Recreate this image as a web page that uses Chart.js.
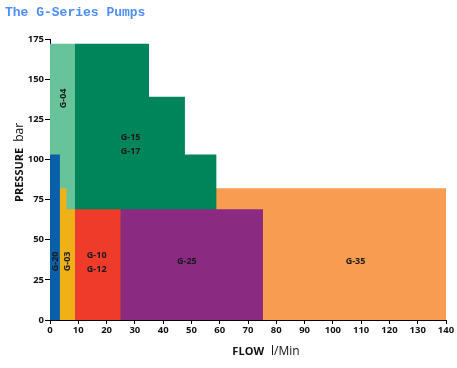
<!DOCTYPE html>
<html>
<head>
<meta charset="utf-8">
<style>
  html, body { margin: 0; padding: 0; background: #ffffff; }
  #wrap { width: 457px; height: 368px; }
</style>
<script src="https://cdn.jsdelivr.net/npm/chart.js@4/dist/chart.umd.min.js"></script>
</head>
<body>
<div id="wrap"><canvas id="c" width="457" height="368"></canvas></div>
<script>
// ---- data ----
const seriesNames = ['G-20', 'G-03', 'G-10 / G-12', 'G-25', 'G-15 / G-17', 'G-04', 'G-35'];
// top outline of each operating region (flow l/Min, pressure bar); each region fills down to 0 bar
// regions are layered: earlier ones are drawn over later ones
const g20Flow = [0, 3.5];            const g20Pressure = [103, 103];
const g03Flow = [3.5, 5.8, 5.8, 8.8]; const g03Pressure = [82, 82, 69, 69];
const g10Flow = [8.7, 25];           const g10Pressure = [69, 69];
const g25Flow = [24.8, 75.3];        const g25Pressure = [69, 69];
const g15Flow = [8.7, 35, 35, 47.7, 47.7, 58.9];
const g15Pressure = [172, 172, 139, 139, 103, 103];
const g04Flow = [0, 8.8];            const g04Pressure = [172, 172];
const g35Flow = [58.5, 140];         const g35Pressure = [82, 82];
const xTicks = [0, 10, 20, 30, 40, 50, 60, 70, 80, 90, 100, 110, 120, 130, 140];
const yTicks = [0, 25, 50, 75, 100, 125, 150, 175];

// region label texts and anchor points (data coordinates)
const labelTexts  = ['G-04', 'G-15', 'G-17', 'G-20', 'G-03', 'G-10', 'G-12', 'G-25', 'G-35'];
const labelFlow   = [4.7, 28.5, 28.5, 1.8, 6.2, 16.5, 16.5, 48.4, 108];
const labelPress  = [138, 114, 105, 36.5, 36.5, 40.3, 31.6, 36.6, 36.6];
const labelRotate = [true, false, false, true, true, false, false, false, false];

const colors = ['#0a5fa8', '#f0b117', '#ef3b2a', '#8a2a80', '#00855a', '#67c39a', '#f89c52'];
const flows = [g20Flow, g03Flow, g10Flow, g25Flow, g15Flow, g04Flow, g35Flow];
const pressures = [g20Pressure, g03Pressure, g10Pressure, g25Pressure, g15Pressure, g04Pressure, g35Pressure];

const datasets = seriesNames.map((name, i) => ({
  label: name,
  data: flows[i].map((x, j) => ({ x: x, y: pressures[i][j] })),
  showLine: true,
  fill: 'origin',
  backgroundColor: colors[i],
  borderColor: colors[i],
  borderWidth: 0,
  pointRadius: 0,
  pointHoverRadius: 0,
  tension: 0
}));

const decor = {
  id: 'decor',
  afterDatasetsDraw(chart) {
    const ctx = chart.ctx;
    const xs = chart.scales.x, ys = chart.scales.y;
    ctx.save();
    ctx.fillStyle = '#1a1a1a';
    ctx.font = 'bold 9px "Open Sans", sans-serif';
    ctx.textAlign = 'center';
    ctx.textBaseline = 'middle';
    labelTexts.forEach((t, i) => {
      const px = xs.getPixelForValue(labelFlow[i]);
      const py = ys.getPixelForValue(labelPress[i]);
      ctx.save();
      ctx.translate(px, py);
      if (labelRotate[i]) ctx.rotate(-Math.PI / 2);
      ctx.fillText(t, 0, 0);
      ctx.restore();
    });
    ctx.restore();
  },
  afterDraw(chart) {
    const ctx = chart.ctx;
    ctx.save();
    // title
    ctx.fillStyle = '#4f8ef7';
    ctx.font = 'bold 13px "Liberation Mono", monospace';
    ctx.textAlign = 'left';
    ctx.textBaseline = 'alphabetic';
    ctx.fillText('The G-Series Pumps', 5, 16);

    // x axis title
    ctx.fillStyle = '#111111';
    ctx.textBaseline = 'alphabetic';
    ctx.font = 'bold 11px "Open Sans", sans-serif';
    const a = 'FLOW';
    const wa = ctx.measureText(a).width;
    ctx.font = '12px "Open Sans", sans-serif';
    const b = 'l/Min';
    const wb = ctx.measureText(b).width;
    const gap = 7;
    let sx = 266 - (wa + gap + wb) / 2;
    ctx.font = 'bold 11px "Open Sans", sans-serif';
    ctx.fillText(a, sx, 355);
    ctx.font = '12px "Open Sans", sans-serif';
    ctx.fillText(b, sx + wa + gap, 355);

    // y axis title (rotated)
    ctx.save();
    ctx.translate(23, 202);
    ctx.rotate(-Math.PI / 2);
    ctx.font = 'bold 11px "Open Sans", sans-serif';
    ctx.fillText('PRESSURE', 0, 0);
    const wp = ctx.measureText('PRESSURE').width;
    ctx.font = '12px "Open Sans", sans-serif';
    ctx.fillText('bar', wp + 6, 0);
    ctx.restore();
    ctx.restore();
  }
};

new Chart(document.getElementById('c'), {
  type: 'scatter',
  data: { datasets: datasets },
  options: {
    responsive: false,
    animation: false,
    events: [],
    layout: { padding: { top: 39, right: 11, left: 0, bottom: 0 } },
    plugins: { legend: { display: false }, tooltip: { enabled: false }, title: { display: false } },
    scales: {
      x: {
        type: 'linear', min: 0, max: 140,
        afterBuildTicks(s) { s.ticks = xTicks.map(v => ({ value: v })); },
        afterFit(s) { s.height = 48; },
        grid: { display: true, drawOnChartArea: false, drawTicks: true, tickLength: 4, color: '#000000', lineWidth: 1 },
        border: { display: true, color: '#000000', width: 1 },
        ticks: { color: '#111111', padding: 1, font: { family: '"Open Sans", sans-serif', size: 9.5, weight: 'bold' }, maxRotation: 0, autoSkip: false }
      },
      y: {
        type: 'linear', min: 0, max: 175,
        afterBuildTicks(s) { s.ticks = yTicks.map(v => ({ value: v })); },
        afterFit(s) { s.width = 50; },
        grid: { display: true, drawOnChartArea: false, drawTicks: true, tickLength: 5, color: '#000000', lineWidth: 1 },
        border: { display: true, color: '#000000', width: 1 },
        ticks: { color: '#111111', padding: 1, font: { family: '"Open Sans", sans-serif', size: 9.5, weight: 'bold' }, autoSkip: false }
      }
    }
  },
  plugins: [decor]
});
</script>
</body>
</html>
